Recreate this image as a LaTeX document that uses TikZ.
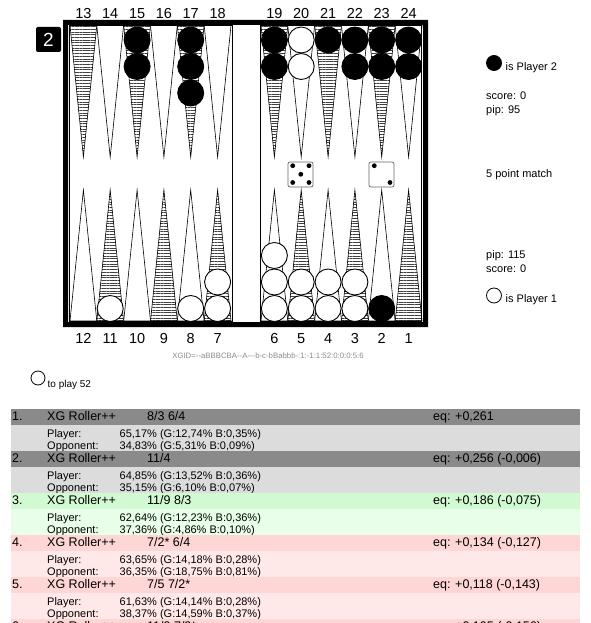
\documentclass[tikz,border=0pt]{standalone}
\usepackage{fontspec}
\setmainfont{Liberation Sans}
\usetikzlibrary{patterns.meta}
\definecolor{hdrgray}{HTML}{8A8A8A}
\definecolor{subgray}{HTML}{DCDCDC}
\definecolor{hdrgreen}{HTML}{D2FAD2}
\definecolor{subgreen}{HTML}{E8FEE8}
\definecolor{hdrred}{HTML}{FFD6D6}
\definecolor{subred}{HTML}{FFE8E8}
\newcommand\xgrow[8]{%
  \fill[#3] (11,#2) rectangle (580,{#2+16});
  \fill[#4] (11,{#2+16}) rectangle (580,{#2+42});
  \node[hdr] (r#1n) at (12,{#2+11.5}) {#1.};
  \node[hdr] (r#1e) at (47,{#2+11.5}) {XG Roller++};
  \node[hdr] (r#1m) at (147,{#2+11.5}) {#5};
  \node[hdr] (r#1q) at (433,{#2+11.5}) {eq: #6};
  \node[subt] (r#1p) at (47,{#2+28}) {Player:};
  \node[subt] (r#1pv) at (119.5,{#2+28}) {#7};
  \node[subt] (r#1o) at (47,{#2+40.5}) {Opponent:};
  \node[subt] (r#1ov) at (119.5,{#2+40.5}) {#8};
}
\begin{document}
\begin{tikzpicture}[x=1pt,y=-1pt,
  wpt/.style={draw=black, line width=0.6pt, fill=white},
  hpt/.style={draw=black, line width=0.6pt, pattern={Lines[angle=0,distance=2.7pt,line width=0.35pt]}, pattern color=black!75},
  bk/.style={draw=black, fill=black, line width=0.9pt},
  wk/.style={draw=black, fill=white, line width=0.9pt},
  num/.style={anchor=base, inner sep=0pt, font=\fontsize{14.5}{16}\selectfont},
  side/.style={anchor=base west, inner sep=0pt, font=\fontsize{11}{13}\selectfont},
  hdr/.style={anchor=base west, inner sep=0pt, font=\fontsize{12.5}{14}\selectfont},
  subt/.style={anchor=base west, inner sep=0pt, font=\fontsize{11}{13}\selectfont},
  die/.style={draw=black!60, fill=white, line width=0.7pt, rounded corners=2pt},
  pip/.style={fill=black}]
\useasboundingbox (0,0) rectangle (590,623);
\clip (0,0) rectangle (590,623);
\fill[white] (0,0) rectangle (590,623);

% points
\foreach \cx/\s in {83.4/hpt,110.2/wpt,137.1/hpt,163.9/wpt,190.7/hpt,217.6/wpt,274.4/hpt,301.2/wpt,328.1/hpt,354.9/wpt,381.7/hpt,408.6/wpt}
  \draw[\s] ({\cx-13.4},25.5) -- ({\cx+13.4},25.5) -- (\cx,157) -- cycle;
\foreach \cx/\s in {83.4/wpt,110.2/hpt,137.1/wpt,163.9/hpt,190.7/wpt,217.6/hpt,274.4/wpt,301.2/hpt,328.1/wpt,354.9/hpt,381.7/wpt,408.6/hpt}
  \draw[\s] ({\cx-13.4},321) -- ({\cx+13.4},321) -- (\cx,190) -- cycle;

% frame
\fill[black, even odd rule] (63,20) rectangle (428,327) (68,25) rectangle (423,322);
\draw[line width=0.6pt] (69.5,25.5) rectangle (232,321.5);
\draw[line width=0.6pt] (260,25.5) rectangle (421.5,321.5);

% checkers top
\foreach \cx/\cy/\s in {137.1/40/bk,137.1/66.5/bk,190.7/40/bk,190.7/66.5/bk,190.7/93/bk,
  274.4/40/bk,274.4/66.5/bk,301.2/40/wk,301.2/66.5/wk,328.1/40/bk,354.9/40/bk,354.9/66.5/bk,
  381.7/40/bk,381.7/66.5/bk,408.6/40/bk,408.6/66.5/bk}
  \draw[\s] (\cx,\cy) circle (13pt);
% checkers bottom
\foreach \cx/\cy/\s in {110.2/308.5/wk,190.7/308.5/wk,217.6/308.5/wk,217.6/282/wk,
  274.4/308.5/wk,274.4/282/wk,274.4/255.5/wk,301.2/308.5/wk,301.2/282/wk,
  328.1/308.5/wk,328.1/282/wk,354.9/308.5/wk,354.9/282/wk,381.7/308.5/bk}
  \draw[\s] (\cx,\cy) circle (13pt);

% point numbers
\foreach \cx/\n in {83.4/13,110.2/14,137.1/15,163.9/16,190.7/17,217.6/18,274.4/19,301.2/20,328.1/21,354.9/22,381.7/23,408.6/24}
  \node[num] (t\n) at (\cx,18.3) {\n};
\foreach \cx/\n in {83.4/12,110.2/11,137.1/10,163.9/9,190.7/8,217.6/7,274.4/6,301.2/5,328.1/4,354.9/3,381.7/2,408.6/1}
  \node[num] (b\n) at (\cx,343) {\n};

% cube
\node[fill=black, rounded corners=2pt, minimum width=25pt, minimum height=25pt, inner sep=0pt, text=white, font=\fontsize{19}{20}\selectfont] (cube) at (48.5,39.5) {2};

% dice
\draw[die] (288,162) rectangle (313,187);
\foreach \px/\py in {292.7/165.7,309/165.7,300.8/174.3,292.7/182.5,309/182.5}
  \fill[pip] (\px,\py) circle (2.4pt);
\draw[die] (369,162) rectangle (394,187);
\foreach \px/\py in {374.3/165.7,390/182.5}
  \fill[pip] (\px,\py) circle (2.4pt);

% side panel
\draw[bk] (494,63) circle (7.5pt);
\node[side] (p2) at (505.5,71) {is Player 2};
\node[side] (sc2) at (486,99.5) {score: 0};
\node[side] (pip2) at (486,113.5) {pip: 95};
\node[side] (match) at (486,177) {5 point match};
\node[side] (pip1) at (486,258.5) {pip: 115};
\node[side] (sc1) at (486,272) {score: 0};
\draw[wk, line width=0.8pt] (494,295.5) circle (7.5pt);
\node[side] (p1) at (505.5,302) {is Player 1};

% xgid
\node[anchor=base, inner sep=0pt, text=black!45, font=\fontsize{7.8}{9}\selectfont] (xgid) at (268,358.3)
  {XGID=-\kern0pt-aBBBCBA-\kern0pt-A-\kern0pt-\kern0pt-b-c-bBabbb-:1:-1:1:52:0:0:0:5:6};

% to play
\draw[wk, line width=0.8pt] (38,378) circle (7pt);
\node[anchor=base west, inner sep=0pt, font=\fontsize{10}{12}\selectfont] (toplay) at (47.5,387.3) {to play 52};

% analysis table
\xgrow{1}{409}{hdrgray}{subgray}{8/3 6/4}{+0,261}{65,17\% (G:12,74\% B:0,35\%)}{34,83\% (G:5,31\% B:0,09\%)}
\xgrow{2}{451}{hdrgray}{subgray}{11/4}{+0,256 (-0,006)}{64,85\% (G:13,52\% B:0,36\%)}{35,15\% (G:6,10\% B:0,07\%)}
\xgrow{3}{493}{hdrgreen}{subgreen}{11/9 8/3}{+0,186 (-0,075)}{62,64\% (G:12,23\% B:0,36\%)}{37,36\% (G:4,86\% B:0,10\%)}
\xgrow{4}{535}{hdrred}{subred}{7/2* 6/4}{+0,134 (-0,127)}{63,65\% (G:14,18\% B:0,28\%)}{36,35\% (G:18,75\% B:0,81\%)}
\xgrow{5}{577}{hdrred}{subred}{7/5 7/2*}{+0,118 (-0,143)}{61,63\% (G:14,14\% B:0,28\%)}{38,37\% (G:14,59\% B:0,37\%)}
\xgrow{6}{619}{hdrred}{subred}{11/9 7/2*}{+0,105 (-0,156)}{}{}
\end{tikzpicture}
\end{document}
